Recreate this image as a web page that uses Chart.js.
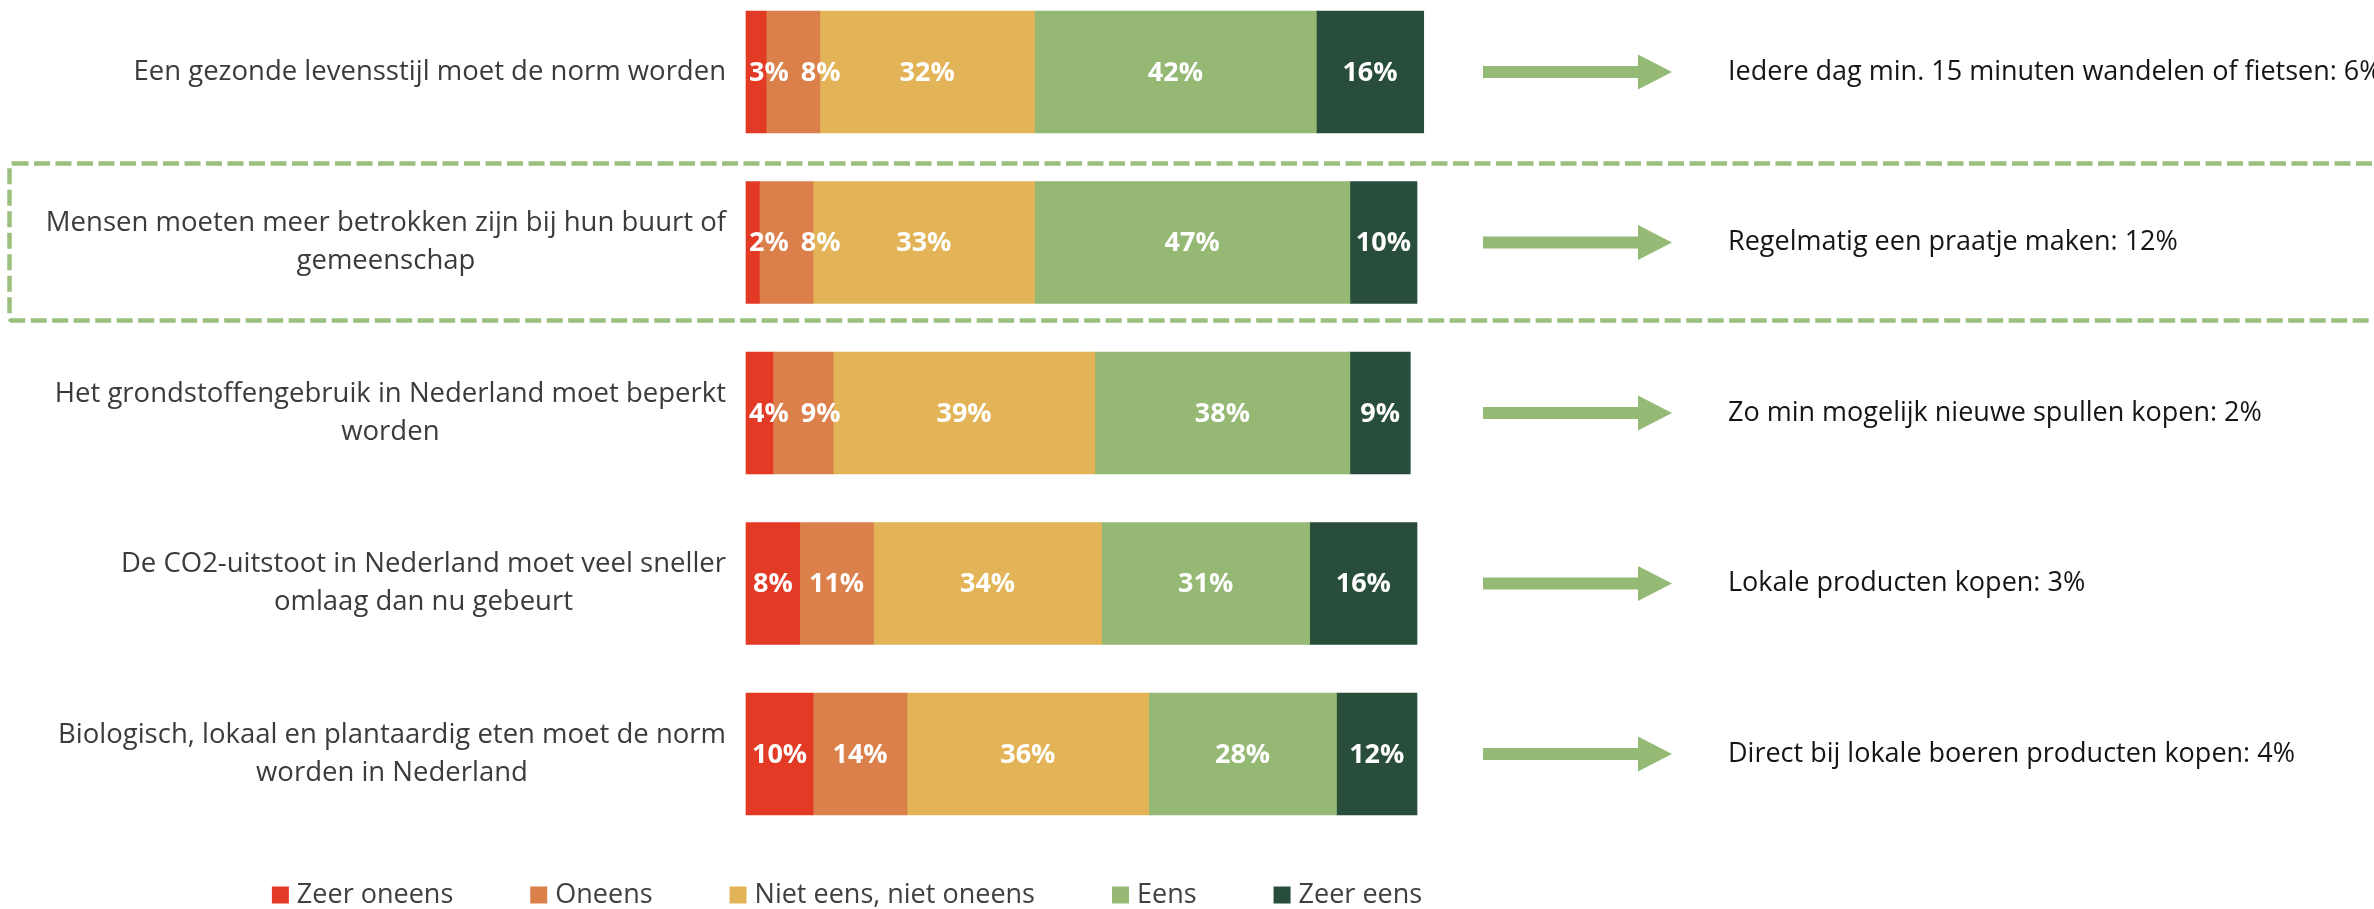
<!DOCTYPE html>
<html>
<head>
<meta charset="utf-8">
<script src="https://cdn.jsdelivr.net/npm/chart.js@4.4.0/dist/chart.umd.min.js"></script>
<style>
  html, body { margin: 0; padding: 0; background: #fff; }
  canvas { display: block; }
</style>
</head>
<body>
<canvas id="opinionChart" width="2374" height="909"></canvas>
<script>
// stellingen (multi-line labels) en antwoordcategorieen
const statements = [
    ['Een gezonde levensstijl moet de norm worden'],
    ['Mensen moeten meer betrokken zijn bij hun buurt of', 'gemeenschap'],
    ['Het grondstoffengebruik in Nederland moet beperkt', 'worden'],
    ['De CO2-uitstoot in Nederland moet veel sneller', 'omlaag dan nu gebeurt'],
    ['Biologisch, lokaal en plantaardig eten moet de norm', 'worden in Nederland']
];
const answers = ['Zeer oneens', 'Oneens', 'Niet eens, niet oneens', 'Eens', 'Zeer eens'];

// percentages per antwoord
const zeerOneens = [3, 2, 4, 8, 10];
const oneens = [8, 8, 9, 11, 14];
const neutraal = [32, 33, 39, 34, 36];
const eens = [42, 47, 38, 31, 28];
const zeerEens = [16, 10, 9, 16, 12];

// gedrag dat bij de stelling hoort
const actions = [
    'Iedere dag min. 15 minuten wandelen of fietsen: 6%',
    'Regelmatig een praatje maken: 12%',
    'Zo min mogelijk nieuwe spullen kopen: 2%',
    'Lokale producten kopen: 3%',
    'Direct bij lokale boeren producten kopen: 4%'
];
const highlighted = 1;

const colors = ['#E33A26', '#DB7F4B', '#E3B457', '#95B974', '#284E3B'];
const accent = '#95BA76';
const fontFamily = "'Open Sans', 'Noto Sans', sans-serif";

const series = [zeerOneens, oneens, neutraal, eens, zeerEens];

const extras = {
    id: 'extras',
    afterDatasetsDraw(chart) {
        const ctx = chart.ctx;
        const area = chart.chartArea;
        const yScale = chart.scales.y;
        ctx.save();

        // percentages in de balken, kleine stukjes opschuiven zodat ze niet overlappen
        ctx.font = 'bold 27px ' + fontFamily;
        ctx.fillStyle = '#fff';
        ctx.textAlign = 'center';
        ctx.textBaseline = 'middle';
        statements.forEach((s, i) => {
            let prevRight = -Infinity;
            series.forEach((vals, d) => {
                const bar = chart.getDatasetMeta(d).data[i];
                const txt = vals[i] + '%';
                const w = ctx.measureText(txt).width;
                let x = (bar.x + bar.base) / 2;
                x = Math.max(x, area.left + w / 2 + 3, prevRight + 12 + w / 2);
                ctx.fillText(txt, x, bar.y + 1);
                prevRight = x + w / 2;
            });
        });

        // stellingen links, regels gecentreerd binnen een rechts uitgelijnd blok
        ctx.font = '27.5px ' + fontFamily;
        ctx.fillStyle = '#3b3b3b';
        const blockRight = area.left - 20;
        const lineHeight = 38;
        statements.forEach((lines, i) => {
            const cy = yScale.getPixelForValue(i);
            const blockW = Math.max(...lines.map(l => ctx.measureText(l).width));
            const cx = blockRight - blockW / 2;
            lines.forEach((l, k) => {
                ctx.fillText(l, cx, cy + (k - (lines.length - 1) / 2) * lineHeight);
            });
        });

        // pijlen en gedragsteksten rechts
        ctx.font = '27px ' + fontFamily;
        ctx.textAlign = 'left';
        actions.forEach((a, i) => {
            const cy = yScale.getPixelForValue(i);
            const x0 = area.right + 66;
            const xHead = area.right + 221;
            const xTip = area.right + 255;
            ctx.fillStyle = accent;
            ctx.beginPath();
            ctx.moveTo(x0, cy - 6);
            ctx.lineTo(xHead, cy - 6);
            ctx.lineTo(xHead, cy - 17.5);
            ctx.lineTo(xTip, cy);
            ctx.lineTo(xHead, cy + 17.5);
            ctx.lineTo(xHead, cy + 6);
            ctx.lineTo(x0, cy + 6);
            ctx.closePath();
            ctx.fill();
            ctx.fillStyle = '#151515';
            ctx.fillText(a, area.right + 311, cy);
        });

        // gestippeld kader rond de uitgelichte stelling
        const hy = yScale.getPixelForValue(highlighted);
        ctx.strokeStyle = '#9BBF7C';
        ctx.lineWidth = 4.5;
        ctx.setLineDash([16, 5.5]);
        ctx.beginPath();
        ctx.roundRect(9.5, hy - 79, chart.width + 20, 157, 3);
        ctx.stroke();
        ctx.setLineDash([]);

        // legenda onderaan
        ctx.font = '27px ' + fontFamily;
        const box = 17, boxGap = 8, itemGap = 77;
        const widths = answers.map(a => box + boxGap + ctx.measureText(a).width);
        const total = widths.reduce((s, w) => s + w, 0) + itemGap * (answers.length - 1);
        let lx = 847 - total / 2;
        const ly = 895;
        answers.forEach((a, d) => {
            ctx.fillStyle = colors[d];
            ctx.fillRect(lx, ly - box / 2, box, box);
            ctx.fillStyle = '#404040';
            ctx.fillText(a, lx + box + boxGap, ly);
            lx += widths[d] + itemGap;
        });

        ctx.restore();
    }
};

new Chart(document.getElementById('opinionChart'), {
    type: 'bar',
    data: {
        labels: statements,
        datasets: answers.map((a, d) => ({
            label: a,
            data: series[d],
            backgroundColor: colors[d],
            borderWidth: 0,
            barThickness: 122,
            clip: false
        }))
    },
    options: {
        indexAxis: 'y',
        responsive: false,
        animation: false,
        layout: {
            padding: { left: 746, right: 957, top: 72, bottom: 155 }
        },
        scales: {
            x: { stacked: true, min: 0, max: 100, display: false },
            y: { stacked: true, offset: false, display: false }
        },
        plugins: {
            legend: { display: false },
            tooltip: { enabled: false }
        }
    },
    plugins: [extras]
});
</script>
</body>
</html>
